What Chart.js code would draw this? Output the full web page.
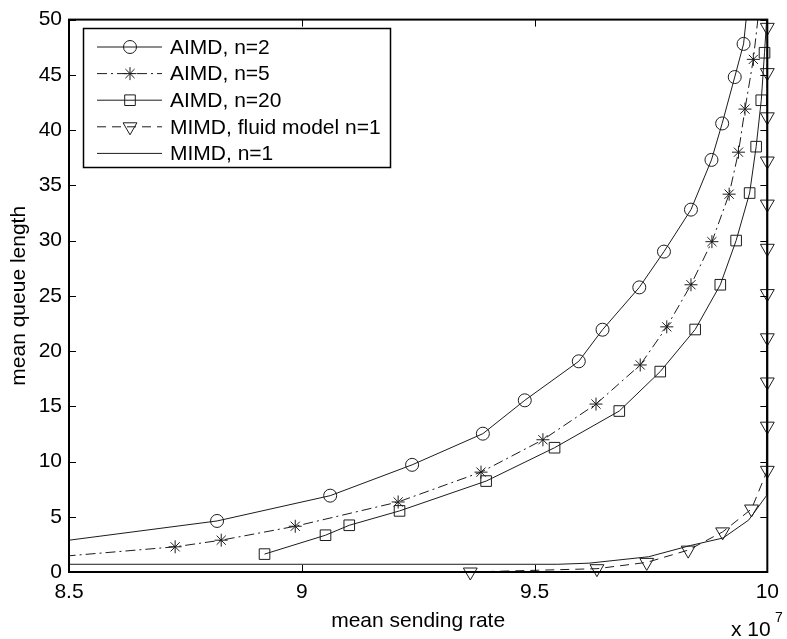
<!DOCTYPE html>
<html><head><meta charset="utf-8">
<script src="https://cdn.jsdelivr.net/npm/chart.js@4.4.0/dist/chart.umd.min.js"></script>
<style>html,body{margin:0;padding:0;background:#fff;}canvas{display:block}</style>
</head><body>
<canvas id="c" width="787" height="639"></canvas>
<script>
// ---- data (x in units of 1e7) ----
const xTicks = [8.5, 9, 9.5, 10];
const xTickLabels = ['8.5', '9', '9.5', '10'];
const yTicks = [0, 5, 10, 15, 20, 25, 30, 35, 40, 45, 50];
const yTickLabels = ['0', '5', '10', '15', '20', '25', '30', '35', '40', '45', '50'];
const seriesNames = ['AIMD, n=2', 'AIMD, n=5', 'AIMD, n=20', 'MIMD, fluid model n=1', 'MIMD, n=1'];
const xLabel = 'mean sending rate';
const yLabel = 'mean queue length';

const aimd2X = [8.42, 8.818, 9.061, 9.237, 9.389, 9.479, 9.595, 9.646, 9.725, 9.778, 9.836, 9.880, 9.903, 9.930, 9.949, 9.962];
const aimd2Y = [2.44, 4.62, 6.91, 9.70, 12.52, 15.54, 19.07, 21.93, 25.76, 29.0, 32.8, 37.3, 40.6, 44.8, 47.8, 53.0];

const aimd5X = [8.45, 8.728, 8.827, 8.986, 9.207, 9.385, 9.518, 9.632, 9.727, 9.784, 9.836, 9.881, 9.918, 9.938, 9.952, 9.970, 9.985];
const aimd5Y = [1.29, 2.28, 2.88, 4.14, 6.34, 9.04, 11.97, 15.2, 18.74, 22.19, 26.0, 29.9, 34.2, 38.0, 41.9, 46.4, 52.0];

const aimd20X = [8.92, 9.051, 9.102, 9.21, 9.396, 9.543, 9.682, 9.77, 9.845, 9.899, 9.933, 9.962, 9.976, 9.987, 9.994, 10.0];
const aimd20Y = [1.62, 3.33, 4.23, 5.53, 8.23, 11.25, 14.57, 18.14, 21.95, 26.0, 30.0, 34.3, 38.5, 42.7, 47.0, 51.0];

const fluidX = [9.362, 9.634, 9.741, 9.83, 9.904, 9.966, 10, 10, 10, 10, 10, 10, 10, 10, 10, 10, 10];
const fluidY = [0.0, 0.3, 0.87, 1.98, 3.63, 5.7, 9.2, 13.2, 17.2, 21.2, 25.2, 29.3, 33.3, 37.2, 41.2, 45.2, 49.3];

const mimdX = [8.45, 9.55, 9.617, 9.745, 9.835, 9.905, 9.96, 9.998, 10.0];
const mimdY = [0.7, 0.7, 0.8, 1.38, 2.4, 3.08, 4.7, 6.9, 56.0];

// ---- build ----
const pts = (xs, ys) => xs.map((v, i) => ({x: v, y: ys[i]}));
const LINE = '#1c1c1c';
const FONT = "'Liberation Sans', Arial, Helvetica, sans-serif";

const datasets = [
  {label: seriesNames[0], data: pts(aimd2X, aimd2Y), pointStyle: 'circle', pointRadius: 6.5, borderDash: [], clip: {left: 0, top: 0, right: 10, bottom: 10}},
  {label: seriesNames[1], data: pts(aimd5X, aimd5Y), pointStyle: 'star', pointRadius: 6.5, borderDash: [10, 4, 2, 4], clip: {left: 0, top: 0, right: 10, bottom: 10}},
  {label: seriesNames[2], data: pts(aimd20X, aimd20Y), pointStyle: 'rect', pointRadius: 7.5, borderDash: [], clip: {left: 0, top: 0, right: 10, bottom: 10}},
  {label: seriesNames[3], data: pts(fluidX, fluidY), pointStyle: 'triangle', pointRotation: 180, pointRadius: 8, borderDash: [9, 6], clip: {left: 0, top: 0, right: 12, bottom: 12}},
  {label: seriesNames[4], data: pts(mimdX, mimdY), pointStyle: false, pointRadius: 0, borderDash: [], clip: {left: 0, top: 0, right: 2, bottom: 2}}
].map(d => Object.assign({
  borderColor: LINE, borderWidth: 1,
  backgroundColor: 'transparent', pointBackgroundColor: 'rgba(0,0,0,0)', pointBorderColor: LINE,
  pointBorderWidth: 1, tension: 0, fill: false, pointHoverRadius: d.pointRadius
}, d));

const boxPlugin = {
  id: 'box',
  afterDatasetsDraw(chart) {
    const {ctx, chartArea: a, scales: {x, y}} = chart;
    ctx.save();
    ctx.strokeStyle = '#000';
    ctx.lineWidth = 1;
    const tl = 7;
    ctx.beginPath();
    xTicks.forEach(v => {
      const px = Math.round(x.getPixelForValue(v)) + 0.5;
      ctx.moveTo(px, a.bottom); ctx.lineTo(px, a.bottom - tl);
      ctx.moveTo(px, a.top); ctx.lineTo(px, a.top + tl);
    });
    yTicks.forEach(v => {
      const py = Math.round(y.getPixelForValue(v)) + 0.5;
      ctx.moveTo(a.left, py); ctx.lineTo(a.left + tl, py);
      ctx.moveTo(a.right, py); ctx.lineTo(a.right - tl, py);
    });
    ctx.stroke();
    ctx.lineWidth = 2;
    ctx.strokeRect(a.left, a.top, a.right - a.left, a.bottom - a.top);

    // legend
    const lx = 83, ly = 28, lw = 307, lh = 139;
    ctx.fillStyle = '#fff';
    ctx.fillRect(lx, ly, lw, lh);
    ctx.lineWidth = 1.5;
    ctx.strokeStyle = '#000';
    ctx.strokeRect(lx + 0.5, ly + 0.5, lw, lh);
    ctx.font = '21px ' + FONT;
    ctx.textBaseline = 'middle';
    ctx.textAlign = 'left';
    chart.data.datasets.forEach((ds, i) => {
      const cy = 47 + i * 26.6;
      ctx.save();
      ctx.strokeStyle = LINE;
      ctx.lineWidth = 1;
      ctx.setLineDash(ds.borderDash || []);
      ctx.beginPath();
      ctx.moveTo(97, cy); ctx.lineTo(162, cy);
      ctx.stroke();
      ctx.setLineDash([]);
      if (ds.pointStyle) {
        ctx.fillStyle = 'rgba(0,0,0,0)';
        Chart.helpers.drawPoint(ctx, {pointStyle: ds.pointStyle, rotation: ds.pointRotation || 0, radius: ds.pointRadius, borderWidth: 1}, 130, cy);
      }
      ctx.restore();
      ctx.fillStyle = '#000';
      ctx.fillText(ds.label, 170, cy + 1);
    });

    // exponent
    ctx.fillStyle = '#000';
    ctx.textBaseline = 'alphabetic';
    ctx.font = '21px ' + FONT;
    ctx.fillText('x 10', 731, 636);
    ctx.font = '14px ' + FONT;
    ctx.fillText('7', 775, 622);
    ctx.restore();
  }
};

new Chart(document.getElementById('c'), {
  type: 'line',
  data: {datasets},
  options: {
    responsive: false,
    devicePixelRatio: 1,
    animation: false,
    events: [],
    layout: {padding: {top: 17, right: 14, left: 0, bottom: 0}},
    plugins: {legend: {display: false}, tooltip: {enabled: false}},
    scales: {
      x: {
        type: 'linear', min: 8.5, max: 10,
        grid: {display: false, drawTicks: false},
        border: {display: false},
        afterBuildTicks: s => { s.ticks = xTicks.map(v => ({value: v})); },
        afterFit: s => { s.height = 67; },
        ticks: {autoSkip: false, maxRotation: 0, padding: 8, color: '#000', font: {family: FONT, size: 21},
          callback: (v, i) => xTickLabels[i]},
        title: {display: true, text: xLabel, color: '#000', font: {family: FONT, size: 21}, padding: {top: 0, bottom: 5}}
      },
      y: {
        type: 'linear', min: 0, max: 50,
        grid: {display: false, drawTicks: false},
        border: {display: false},
        afterBuildTicks: s => { s.ticks = yTicks.map(v => ({value: v})); },
        afterFit: s => { s.width = 69; },
        ticks: {autoSkip: false, padding: 7, color: '#000', font: {family: FONT, size: 21},
          callback: (v, i) => yTickLabels[i]},
        title: {display: true, text: yLabel, color: '#000', font: {family: FONT, size: 21}, padding: {top: 7, bottom: 0}}
      }
    }
  },
  plugins: [boxPlugin]
});
</script>
</body></html>
